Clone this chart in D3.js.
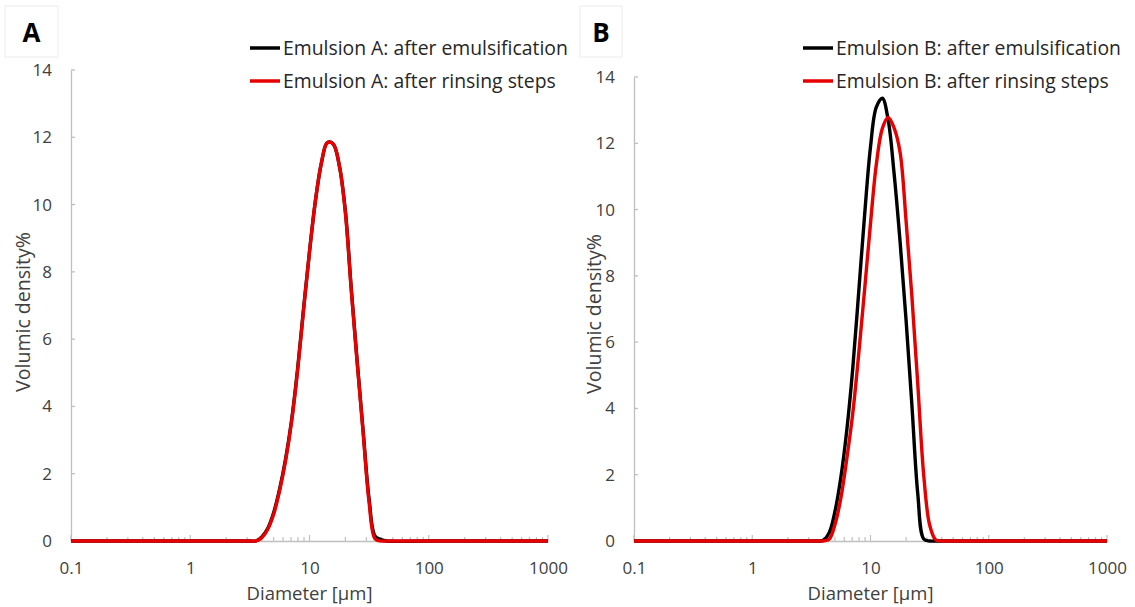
<!DOCTYPE html>
<html>
<head>
<meta charset="utf-8">
<script src="https://cdn.jsdelivr.net/npm/d3@7"></script>
<style>
  body { margin: 0; background: #fff; }
  svg { display: block; }
  text { font-family: "Open Sans", "Noto Sans", sans-serif; }
</style>
</head>
<body>
<svg width="1135" height="607"></svg>
<script>
// particle size classes [µm] (log-spaced around the peak, ends pinned to axis range)
const sizes = [0.1, 1.0, 3.16, 3.55, 3.98, 4.47, 5.01, 5.62, 6.31, 7.08, 7.94, 8.91, 10.0, 11.2, 12.6,
  14.1, 15.8, 17.8, 20.0, 22.4, 25.1, 28.2, 31.6, 35.5, 39.8, 44.7, 100, 1000];

// volumic density %
const emulsionA_emuls = [0, 0, 0, 0, 0.12, 0.38, 0.85, 1.55, 2.45, 3.6, 5.1, 6.9, 8.6, 10.1, 11.25,
  11.84, 11.8, 11.15, 9.8, 7.5, 5.35, 3.25, 1.25, 0.14, 0.04, 0, 0, 0];
const emulsionA_rinse = [0, 0, 0, 0, 0.1, 0.35, 0.8, 1.5, 2.4, 3.55, 5.05, 6.85, 8.6, 10.1, 11.25,
  11.84, 11.8, 11.15, 9.75, 7.45, 5.3, 3.2, 1.15, 0.06, 0, 0, 0, 0];
const emulsionB_emuls = [0, 0, 0, 0, 0.02, 0.25, 0.9, 1.93, 3.36, 5.21, 7.49, 9.82, 11.89, 13.09, 13.36,
  12.71, 11.12, 9.02, 6.66, 4.09, 1.43, 0.06, 0, 0, 0, 0, 0, 0];
const emulsionB_rinse = [0, 0, 0, 0, 0, 0.05, 0.5, 1.3, 2.49, 3.85, 5.62, 7.57, 9.58, 11.36, 12.45,
  12.78, 12.47, 11.72, 9.65, 7.37, 4.74, 1.98, 0.49, 0.04, 0, 0, 0, 0];

const xTicks = [0.1, 1, 10, 100, 1000];
const yTicks = [0, 2, 4, 6, 8, 10, 12, 14];

const svg = d3.select("svg");
const textColor = "#404040";

const panels = [
  {
    letter: "A", x0: 71, x1: 548, yTop: 70, yBot: 541,
    box: [5, 6, 53, 51], legendX: 250,
    yTitle: [23, 312],
    series: [
      { name: "Emulsion A: after emulsification", values: emulsionA_emuls, color: "#000000" },
      { name: "Emulsion A: after rinsing steps", values: emulsionA_rinse, color: "#e60000" }
    ]
  },
  {
    letter: "B", x0: 634, x1: 1107, yTop: 77, yBot: 541,
    box: [580, 6, 42, 51], legendX: 803,
    yTitle: [594, 314],
    series: [
      { name: "Emulsion B: after emulsification", values: emulsionB_emuls, color: "#000000" },
      { name: "Emulsion B: after rinsing steps", values: emulsionB_rinse, color: "#e60000" }
    ]
  }
];

// shrink / grow a text so it spans a given width
function fitText(sel, w) {
  let l = sel.node().getComputedTextLength();
  let fs = parseFloat(sel.attr("font-size"));
  sel.attr("font-size", fs * w / l);
  return fs * w / l;
}

panels.forEach(p => {
  let x = d3.scaleLog().domain([0.1, 1000]).range([p.x0, p.x1]);
  let y = d3.scaleLinear().domain([0, 14]).range([p.yBot, p.yTop]);
  let g = svg.append("g");

  // panel letter in its light box
  g.append("rect")
    .attr("x", p.box[0]).attr("y", p.box[1])
    .attr("width", p.box[2]).attr("height", p.box[3])
    .attr("fill", "#fff").attr("stroke", "#ececec");
  g.append("text")
    .attr("x", p.box[0] + p.box[2] / 2).attr("y", p.box[1] + 36)
    .attr("text-anchor", "middle")
    .attr("font-size", 26).attr("font-weight", "bold")
    .attr("fill", "#000")
    .text(p.letter);

  // y axis: labels, line and inward ticks
  let yAxis = g.append("g")
    .attr("transform", `translate(${p.x0},0)`)
    .call(d3.axisLeft(y).tickValues(yTicks).tickSize(0).tickPadding(19));
  yAxis.select(".domain").attr("stroke", "#bfbfbf").attr("stroke-width", 1.3);
  yAxis.selectAll("text").attr("font-size", 17).attr("fill", textColor)
    .style("font-family", "'Open Sans', sans-serif");
  g.selectAll(".ytick").data(yTicks).enter().append("line")
    .attr("x1", p.x0).attr("x2", p.x0 + 4)
    .attr("y1", d => y(d)).attr("y2", d => y(d))
    .attr("stroke", "#bfbfbf").attr("stroke-width", 1.3);

  // x axis: labels + line, then upward major/minor ticks
  let xAxis = g.append("g")
    .attr("transform", `translate(0,${p.yBot})`)
    .call(d3.axisBottom(x).tickValues(xTicks).tickSize(0).tickPadding(21)
      .tickFormat(d => d < 1 ? d3.format(".1f")(d) : d3.format("d")(d)));
  xAxis.select(".domain").attr("stroke", "#bfbfbf").attr("stroke-width", 1.3);
  xAxis.selectAll("text").attr("font-size", 17).attr("fill", textColor)
    .style("font-family", "'Open Sans', sans-serif");

  let minor = [];
  xTicks.slice(0, -1).forEach(dec => {
    for (let k = 2; k <= 9; k++) minor.push(dec * k);
  });
  g.selectAll(".xminor").data(minor).enter().append("line")
    .attr("x1", d => x(d)).attr("x2", d => x(d))
    .attr("y1", p.yBot).attr("y2", p.yBot - 4)
    .attr("stroke", "#bfbfbf").attr("stroke-width", 1.2);
  g.selectAll(".xmajor").data(xTicks).enter().append("line")
    .attr("x1", d => x(d)).attr("x2", d => x(d))
    .attr("y1", p.yBot).attr("y2", p.yBot - 6)
    .attr("stroke", "#bfbfbf").attr("stroke-width", 1.2);

  // axis titles
  let xt = g.append("text")
    .attr("x", x(10)).attr("y", 600)
    .attr("text-anchor", "middle").attr("font-size", 17).attr("fill", textColor)
    .text("Diameter [µm]");
  fitText(xt, 126);
  let yt = g.append("text")
    .attr("transform", `translate(${p.yTitle[0]},${p.yTitle[1]}) rotate(-90)`)
    .attr("dy", "0.35em")
    .attr("text-anchor", "middle").attr("font-size", 17).attr("fill", textColor)
    .text("Volumic density%");
  fitText(yt, 160);

  // curves
  let line = d3.line()
    .x((d, i) => x(sizes[i]))
    .y(d => y(d))
    .curve(d3.curveCatmullRom.alpha(0.5));
  p.series.forEach(s => {
    g.append("path")
      .datum(s.values)
      .attr("fill", "none")
      .attr("stroke", s.color)
      .attr("stroke-width", 3.4)
      .attr("stroke-linejoin", "round")
      .attr("d", line);
  });

  // legend
  let fs;
  p.series.forEach((s, i) => {
    let ly = 48 + i * 33;
    g.append("line")
      .attr("x1", p.legendX).attr("x2", p.legendX + 30)
      .attr("y1", ly).attr("y2", ly)
      .attr("stroke", s.color).attr("stroke-width", 3.5);
    let t = g.append("text")
      .attr("x", p.legendX + 33).attr("y", ly)
      .attr("dy", "0.35em")
      .attr("font-size", fs || 17).attr("fill", "#262626")
      .text(s.name);
    if (!fs) fs = fitText(t, 285);
  });
});
</script>
</body>
</html>
